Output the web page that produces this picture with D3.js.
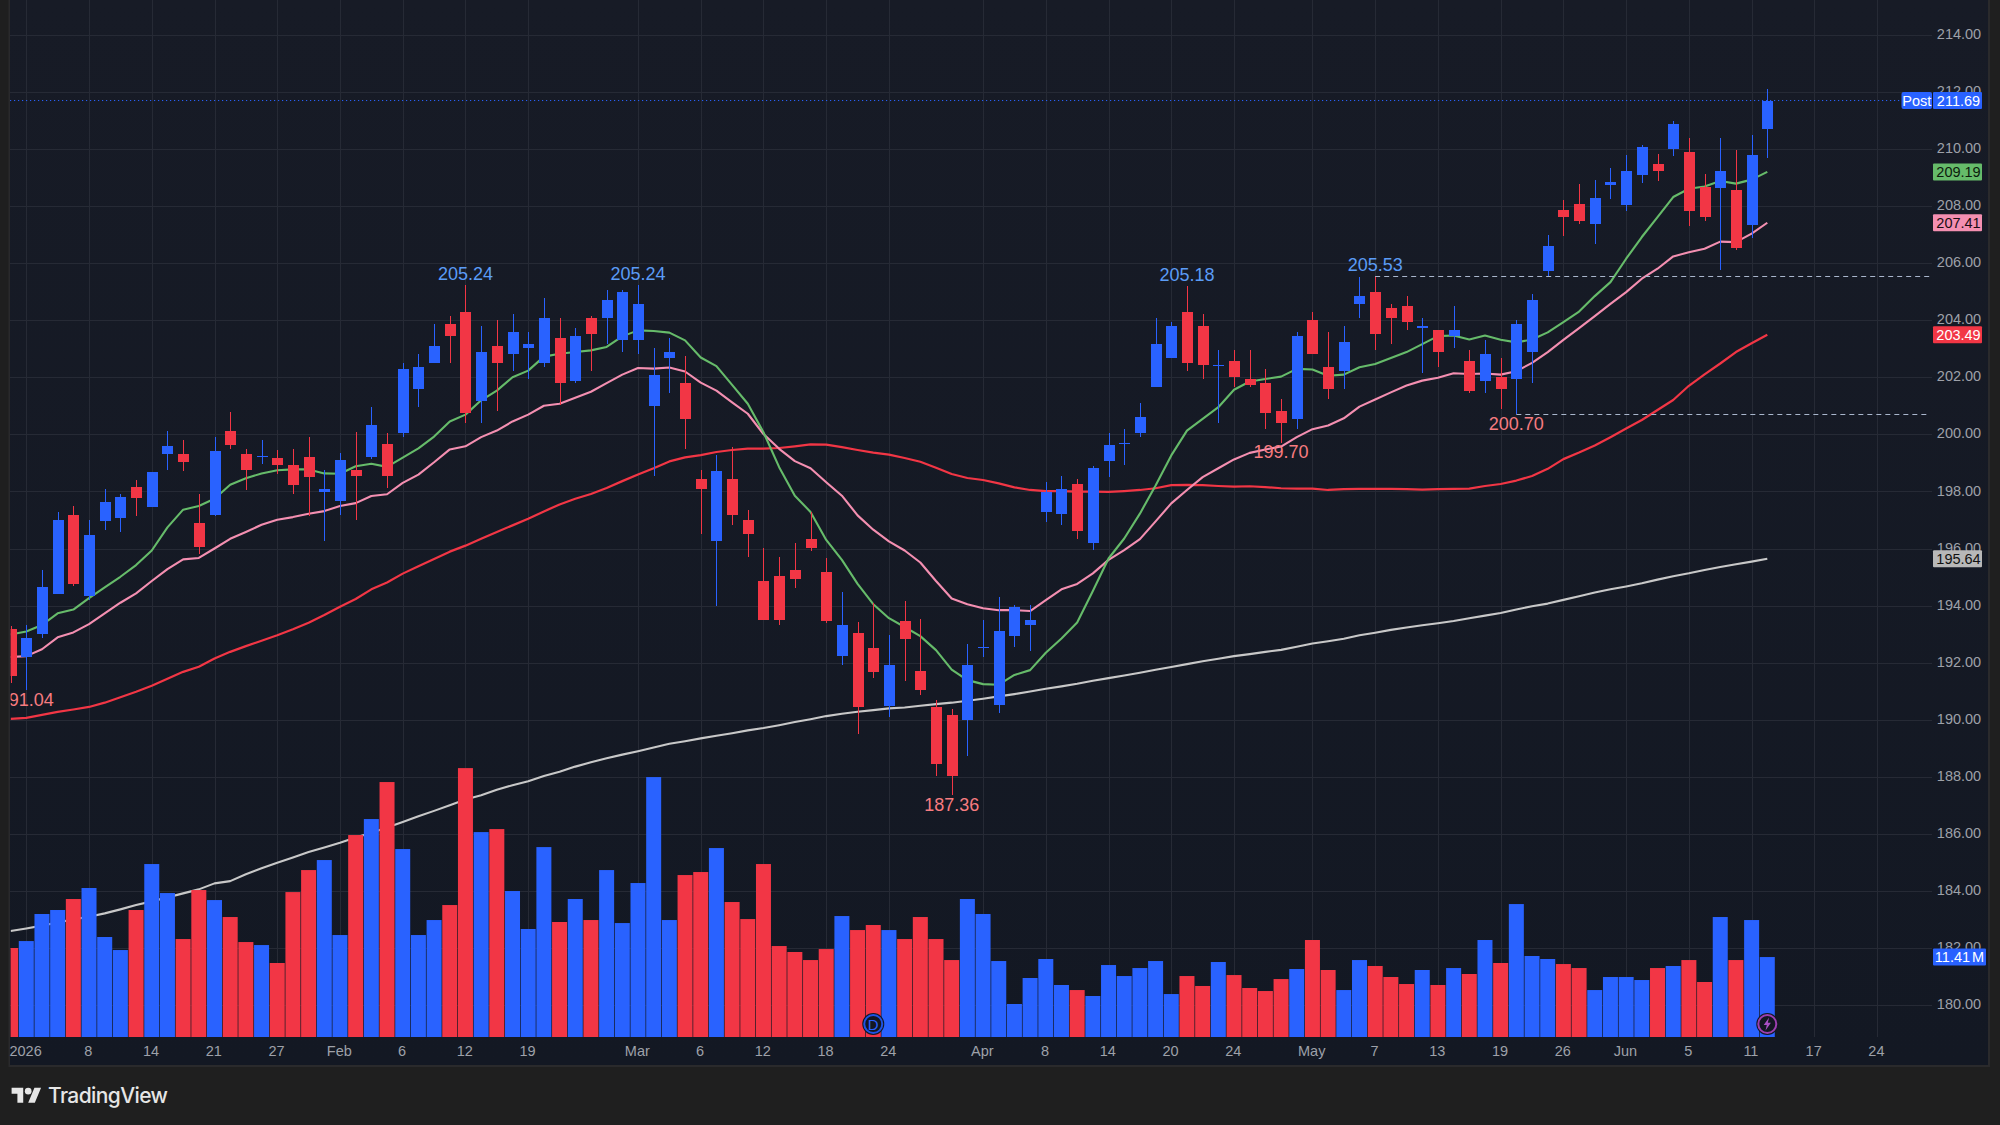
<!DOCTYPE html>
<html>
<head>
<meta charset="utf-8">
<title>Daily price chart</title>
<script src="https://cdn.jsdelivr.net/npm/d3@7/dist/d3.min.js"></script>
<style>
  html, body { margin: 0; padding: 0; background: #1f1f1f; }
  svg { display: block; }
  text { font-family: "Liberation Sans Narrow", "Liberation Sans", sans-serif; }
</style>
</head>
<body>
<svg id="chart" width="2000" height="1125"></svg>
<script>
// Daily session data, index 0 is the last session of 2025.
const opens = [193.18,192.20,193.00,194.40,197.17,194.33,196.96,197.07,198.15,197.45,199.31,199.31,196.89,197.17,200.11,199.31,199.20,199.17,198.92,199.20,197.98,197.66,198.75,199.20,199.66,200.03,201.57,202.51,203.88,204.27,201.15,203.08,202.80,203.04,202.48,203.39,201.85,204.09,204.09,203.32,203.32,201.00,202.66,201.78,198.45,196.26,198.45,197.00,194.86,195.04,195.25,196.33,195.18,192.23,193.04,192.51,190.48,193.46,191.71,190.44,190.16,189.99,192.52,190.51,192.93,193.32,197.28,197.21,198.26,196.19,199.05,199.68,200.06,201.64,202.66,204.27,203.78,202.41,202.58,201.95,201.78,200.80,200.52,204.02,202.37,202.23,204.55,204.97,204.44,204.48,203.71,203.67,203.43,202.58,201.85,201.99,201.95,202.90,205.71,207.84,208.05,207.35,208.72,208.02,209.07,209.46,209.98,209.88,208.65,208.61,208.54,207.32,210.68];
const closes = [191.53,192.86,194.65,197.00,194.76,196.47,197.63,197.80,197.77,198.68,199.59,199.03,196.05,199.41,199.62,198.75,199.24,198.92,198.22,198.50,198.08,199.10,198.54,200.32,198.54,202.27,202.37,203.11,203.43,200.76,202.87,202.48,203.57,203.15,204.09,201.81,203.46,203.53,204.72,204.97,204.58,202.09,202.90,200.52,198.10,198.70,197.19,196.52,193.49,193.49,194.93,196.02,193.46,193.32,190.44,191.67,191.92,192.83,191.04,188.45,188.03,191.92,192.55,193.11,193.95,193.49,197.98,198.08,196.61,198.81,199.64,199.71,200.62,203.15,203.81,202.51,202.41,202.44,201.99,201.74,200.73,200.38,203.43,202.80,201.60,203.25,204.86,203.50,204.06,203.95,203.81,202.90,203.67,201.53,202.80,201.57,203.85,204.72,206.58,207.60,207.46,208.26,208.82,209.21,210.05,209.21,210.86,207.81,207.60,209.21,206.51,209.77,211.69];
const highs = [193.30,193.31,195.25,197.28,197.49,197.00,198.08,197.91,198.40,198.68,200.11,199.80,197.91,199.90,200.78,199.48,199.80,199.45,199.48,199.90,198.75,199.34,200.08,200.95,200.04,202.48,202.83,203.85,204.16,205.24,203.81,203.99,204.23,203.60,204.79,204.09,203.71,204.13,205.04,205.07,205.24,203.04,203.36,202.73,198.76,199.26,199.57,197.36,196.02,195.70,196.19,197.28,195.67,194.47,193.42,194.09,192.97,194.16,193.53,190.69,190.37,192.65,193.49,194.30,194.02,194.02,198.33,198.55,198.45,198.90,200.03,200.20,201.08,204.09,203.92,205.18,204.20,202.94,202.94,202.94,202.27,201.25,203.57,204.30,203.57,203.78,205.50,205.53,204.58,204.83,204.09,203.67,204.51,202.94,203.29,202.66,203.99,204.90,206.97,208.19,208.75,208.89,209.31,209.77,210.12,209.81,210.96,210.37,209.10,210.37,209.95,210.47,212.11];
const lows = [191.30,191.04,192.86,194.40,194.69,194.19,196.65,196.58,197.14,197.45,198.75,198.71,195.81,197.14,199.48,198.05,198.96,198.61,197.91,197.14,196.26,197.17,197.00,199.13,198.12,199.90,200.97,202.48,202.51,200.38,200.41,200.83,202.23,201.92,202.34,201.04,201.78,202.23,203.18,202.90,202.83,198.55,201.43,199.47,196.52,193.98,196.84,195.70,193.49,193.32,194.61,195.91,193.39,191.92,189.50,191.46,190.09,191.36,190.86,188.03,187.36,188.73,192.20,190.23,192.55,192.41,196.93,196.82,196.33,195.95,198.52,198.94,199.92,201.64,202.66,202.20,201.95,200.38,201.64,201.67,200.17,199.70,200.20,202.80,201.22,201.60,204.06,202.94,203.18,203.64,202.16,202.34,203.04,201.46,201.46,200.90,200.70,201.81,205.53,206.93,207.35,206.65,208.23,207.81,208.79,208.86,209.74,207.28,207.46,205.74,206.44,206.86,209.67];
const volumes = [12.70,13.69,17.55,18.12,19.69,21.26,14.27,12.41,18.12,24.68,20.54,13.98,20.97,19.54,17.12,13.55,13.12,10.56,20.68,23.82,25.25,14.55,28.82,31.10,36.38,26.82,14.55,16.69,18.83,38.37,29.24,29.67,20.83,15.41,27.10,16.41,19.69,16.69,23.82,16.26,21.97,37.09,16.69,23.11,23.54,26.96,19.26,16.83,24.68,12.98,12.13,10.98,12.55,17.26,15.26,15.98,15.26,13.98,17.12,13.98,10.98,19.69,17.55,10.84,4.71,8.42,11.13,7.42,6.70,5.85,10.27,8.70,9.84,10.84,6.13,8.70,7.28,10.70,8.84,6.99,6.56,8.27,9.70,13.84,9.56,6.70,10.98,10.13,8.56,7.56,9.56,7.42,9.84,8.99,13.84,10.56,18.97,11.56,11.13,10.41,9.84,6.70,8.56,8.56,8.13,9.84,10.13,10.98,7.85,17.12,10.98,16.69,11.41];

// Moving averages, one value per session.
const maFast = [192.99,193.09,193.32,193.73,193.86,194.26,194.64,195.01,195.42,195.93,196.74,197.36,197.49,197.74,198.23,198.46,198.63,198.74,198.77,198.77,198.63,198.62,198.88,198.97,198.86,199.18,199.51,199.92,200.45,200.69,201.19,201.53,202.00,202.23,202.72,202.82,202.88,202.94,203.06,203.43,203.64,203.62,203.56,203.29,202.69,202.39,201.73,201.07,200.07,198.85,197.85,197.28,196.30,195.60,194.76,194.05,193.56,193.25,192.93,192.44,191.76,191.39,191.25,191.23,191.57,191.74,192.35,192.85,193.41,194.51,195.65,196.35,197.22,198.21,199.26,200.13,200.54,200.95,201.56,201.85,201.94,202.02,202.29,202.27,202.05,202.09,202.35,202.46,202.67,202.88,203.16,203.44,203.46,203.32,203.46,203.31,203.22,203.32,203.57,203.93,204.30,204.84,205.33,206.15,206.91,207.61,208.31,208.60,208.68,208.87,208.78,208.92,209.19];
const maMid = [192.20,192.23,192.47,192.89,193.06,193.35,193.73,194.10,194.43,194.86,195.28,195.62,195.67,196.00,196.34,196.58,196.83,197.01,197.10,197.22,197.31,197.49,197.59,197.84,197.90,198.30,198.59,199.02,199.47,199.58,199.90,200.13,200.45,200.69,201.00,201.07,201.28,201.49,201.79,202.09,202.32,202.30,202.34,202.20,201.81,201.53,201.12,200.72,200.01,199.49,199.06,198.81,198.32,197.85,197.16,196.66,196.25,195.93,195.51,194.86,194.25,194.05,193.91,193.84,193.84,193.81,194.19,194.57,194.76,195.13,195.60,195.94,196.33,196.95,197.58,198.05,198.50,198.81,199.12,199.35,199.47,199.57,199.90,200.18,200.31,200.56,200.97,201.22,201.47,201.71,201.88,201.98,202.14,202.11,202.13,202.09,202.21,202.50,202.88,203.31,203.72,204.14,204.57,204.98,205.45,205.80,206.23,206.38,206.50,206.75,206.73,207.03,207.41];
const maSlow = [190.03,190.07,190.17,190.28,190.36,190.45,190.60,190.79,190.98,191.19,191.44,191.68,191.86,192.15,192.38,192.58,192.77,192.96,193.17,193.40,193.67,193.96,194.23,194.57,194.81,195.12,195.38,195.63,195.89,196.10,196.34,196.58,196.81,197.04,197.30,197.54,197.74,197.91,198.12,198.36,198.59,198.81,199.05,199.19,199.27,199.38,199.45,199.50,199.50,199.52,199.58,199.65,199.64,199.55,199.45,199.36,199.29,199.17,199.04,198.83,198.61,198.47,198.40,198.28,198.14,198.05,198.01,198.01,197.99,197.99,197.98,198.01,198.05,198.11,198.22,198.23,198.22,198.19,198.17,198.18,198.15,198.11,198.10,198.10,198.05,198.08,198.09,198.09,198.09,198.08,198.06,198.08,198.09,198.10,198.19,198.26,198.38,198.54,198.79,199.13,199.36,199.61,199.90,200.20,200.50,200.85,201.20,201.70,202.10,202.48,202.88,203.19,203.49];
const maLong = [182.60,182.69,182.79,182.90,183.01,183.10,183.22,183.36,183.51,183.64,183.78,183.92,184.06,184.27,184.35,184.59,184.80,184.99,185.18,185.37,185.53,185.69,185.88,186.04,186.23,186.42,186.62,186.81,187.01,187.21,187.36,187.55,187.71,187.85,188.03,188.18,188.36,188.51,188.65,188.78,188.90,189.03,189.16,189.25,189.35,189.44,189.53,189.63,189.71,189.81,189.92,190.02,190.13,190.21,190.28,190.34,190.40,190.43,190.49,190.55,190.60,190.67,190.74,190.82,190.90,190.99,191.09,191.17,191.26,191.37,191.46,191.55,191.65,191.75,191.85,191.95,192.05,192.14,192.23,192.30,192.38,192.45,192.56,192.67,192.75,192.84,192.96,193.05,193.15,193.23,193.31,193.38,193.46,193.56,193.65,193.74,193.86,193.98,194.07,194.20,194.33,194.46,194.57,194.67,194.78,194.91,195.03,195.13,195.25,195.35,195.45,195.54,195.64];

// Axis labelling.
const priceTicks = [180,182,184,186,188,190,192,194,196,198,200,202,204,206,208,210,212,214];
const dateTickIndex = [1,5,9,13,17,21,25,29,33,40,44,48,52,56,62,66,70,74,78,83,87,91,95,99,103,107,111,115,119];
const dateTickLabels = ["2026","8","14","21","27","Feb","6","12","19","Mar","6","12","18","24","Apr","8","14","20","24","May","7","13","19","26","Jun","5","11","17","24"];

// Swing points that carry a price label.
const swingHighs = [29,40,75,87];
const swingLows = [1,60,81,96];
// Horizontal levels extended to the right from a swing.
const levelHighIndex = 87;
const levelLowIndex = 96;

const UP = "#2962ff", DOWN = "#f23645", GREEN = "#66bb6a", PINK = "#f48fb1", GREY = "#c8c8c8";
const LAST = opens.length - 1;
const isUp = i => closes[i] >= opens[i];

const svg = d3.select("#chart");
const defs = svg.append("defs");
const bgGrad = defs.append("linearGradient").attr("id", "paneBg").attr("x1", 0).attr("y1", 0).attr("x2", 0).attr("y2", 1);
bgGrad.append("stop").attr("offset", "0%").attr("stop-color", "#171b26");
bgGrad.append("stop").attr("offset", "100%").attr("stop-color", "#131823");
defs.append("clipPath").attr("id", "pane").append("rect")
  .attr("x", 10.6).attr("y", 0).attr("width", 1921).attr("height", 1037);

const x = d3.scaleLinear().domain([0, LAST]).range([10.6, 1767.3]);
const y = d3.scaleLinear().domain([180, 214]).range([1005.3, 34.6]);
const vol = d3.scaleLinear().domain([0, d3.max(volumes)]).range([1037, 768.1]);

// Page and pane backgrounds.
svg.append("rect").attr("width", 2000).attr("height", 1125).attr("fill", "#1f1f1f");
svg.append("rect").attr("x", 8.5).attr("y", 0).attr("width", 1981.5).attr("height", 1067).attr("fill", "#2a2a2c");
svg.append("rect").attr("x", 10).attr("y", 0).attr("width", 1978).attr("height", 1065).attr("fill", "url(#paneBg)");

// Grid.
const grid = svg.append("g").attr("stroke", "#262a35").attr("stroke-width", 1).attr("shape-rendering", "crispEdges");
grid.selectAll("line.h").data(priceTicks).join("line").attr("class", "h")
  .attr("x1", 10).attr("x2", 1932).attr("y1", d => Math.round(y(d)) + .5).attr("y2", d => Math.round(y(d)) + .5);
grid.selectAll("line.v").data(dateTickIndex).join("line").attr("class", "v")
  .attr("x1", d => Math.round(x(d)) + .5).attr("x2", d => Math.round(x(d)) + .5).attr("y1", 0).attr("y2", 1037);

const plot = svg.append("g").attr("clip-path", "url(#pane)");

// Moving averages sit behind the volume bars and candles.
const maLine = d3.line().x((d, i) => x(i)).y(d => y(d));
[[maLong, GREY, 2.1], [maSlow, DOWN, 2.2], [maMid, PINK, 2.1], [maFast, GREEN, 2.1]].forEach(([values, color, w]) => {
  plot.append("path").datum(values).attr("d", maLine).attr("fill", "none")
    .attr("stroke", color).attr("stroke-width", w).attr("stroke-linejoin", "round");
});

// Volume histogram.
plot.append("g").selectAll("rect").data(volumes).join("rect")
  .attr("x", (d, i) => x(i) - 7.5).attr("width", 15)
  .attr("y", d => vol(d)).attr("height", d => 1037 - vol(d))
  .attr("fill", (d, i) => isUp(i) ? UP : DOWN);

// Candles.
const candles = plot.append("g").attr("shape-rendering", "crispEdges");
const idx = d3.range(opens.length);
candles.selectAll("line").data(idx).join("line")
  .attr("x1", i => Math.round(x(i)) + .5).attr("x2", i => Math.round(x(i)) + .5)
  .attr("y1", i => y(highs[i])).attr("y2", i => y(lows[i]))
  .attr("stroke", i => isUp(i) ? UP : DOWN);
candles.selectAll("rect").data(idx).join("rect")
  .attr("x", i => Math.round(x(i)) - 5).attr("width", 11)
  .attr("y", i => y(Math.max(opens[i], closes[i])))
  .attr("height", i => Math.max(1, Math.abs(y(opens[i]) - y(closes[i]))))
  .attr("fill", i => isUp(i) ? UP : DOWN);

// Last-price line and the two swing levels.
const lastClose = closes[LAST];
svg.append("line").attr("x1", 10).attr("x2", 1900).attr("y1", y(lastClose)).attr("y2", y(lastClose))
  .attr("stroke", UP).attr("stroke-width", 1).attr("stroke-dasharray", "1.2 2.8");
[[levelHighIndex, highs[levelHighIndex]], [levelLowIndex, lows[levelLowIndex]]].forEach(([i, v]) => {
  svg.append("line").attr("x1", x(i)).attr("x2", 1930).attr("y1", Math.round(y(v)) + .5).attr("y2", Math.round(y(v)) + .5)
    .attr("stroke", "#a9b6cc").attr("stroke-width", 1).attr("stroke-dasharray", "5 4");
});

// Swing labels.
const fmt = d3.format(".2f");
plot.selectAll("text.hi").data(swingHighs).join("text").attr("class", "hi")
  .attr("x", i => x(i)).attr("y", i => y(highs[i]) - 5)
  .attr("text-anchor", "middle").attr("fill", "#5b9cf6")
  .attr("font-size", 18).attr("style", 'font-family:"Liberation Sans",sans-serif').text(i => fmt(highs[i]));
plot.selectAll("text.lo").data(swingLows).join("text").attr("class", "lo")
  .attr("x", i => x(i)).attr("y", i => y(lows[i]) + 15.5)
  .attr("text-anchor", "middle").attr("fill", "#f77c80")
  .attr("font-size", 18).attr("style", 'font-family:"Liberation Sans",sans-serif').text(i => fmt(lows[i]));

// Price axis.
const priceAxis = d3.axisRight(y).tickValues(priceTicks).tickFormat(fmt).tickSize(0).tickPadding(0);
const pa = svg.append("g").attr("transform", "translate(1959,-1)").call(priceAxis);
pa.select(".domain").remove();
pa.selectAll("text").attr("text-anchor", "middle").attr("font-size", 14.5)
  .attr("fill", "#9ea1a9").attr("style", "font-family:inherit");

// Date axis.
const dateAxis = d3.axisBottom(x).tickValues(dateTickIndex)
  .tickFormat((d, i) => dateTickLabels[i]).tickSize(0).tickPadding(0);
const da = svg.append("g").attr("transform", "translate(-1.2,1045.5)").call(dateAxis);
da.select(".domain").remove();
da.selectAll("text").attr("font-size", 14.5).attr("fill", "#9ea1a9").attr("style", "font-family:inherit");

// Value badges on the price axis.
const badges = [
  { v: lastClose, bg: UP, fg: "#ffffff", text: fmt(lastClose) },
  { v: maFast[LAST], bg: GREEN, fg: "#0c1a0c", text: fmt(maFast[LAST]) },
  { v: maMid[LAST], bg: PINK, fg: "#1a0c12", text: fmt(maMid[LAST]) },
  { v: maSlow[LAST], bg: DOWN, fg: "#ffffff", text: fmt(maSlow[LAST]) },
  { v: maLong[LAST], bg: "#b8b8b8", fg: "#111111", text: fmt(maLong[LAST]) }
];
const badgeG = svg.append("g");
badges.forEach(b => {
  const cy = y(b.v);
  badgeG.append("rect").attr("x", 1933).attr("y", cy - 8.5).attr("width", 49).attr("height", 17).attr("fill", b.bg).attr("rx", 1);
  badgeG.append("text").attr("x", 1958.5).attr("y", cy + 5).attr("text-anchor", "middle")
    .attr("font-size", 14.5).attr("fill", b.fg).text(b.text);
});
badgeG.append("rect").attr("x", 1901.5).attr("y", y(lastClose) - 8.5).attr("width", 30.5).attr("height", 17).attr("fill", UP).attr("rx", 2);
badgeG.append("text").attr("x", 1916.8).attr("y", y(lastClose) + 5).attr("text-anchor", "middle")
  .attr("font-size", 14.5).attr("fill", "#ffffff").text("Post");
const lastVol = volumes[LAST];
badgeG.append("rect").attr("x", 1933).attr("y", vol(lastVol) - 8.5).attr("width", 53).attr("height", 17).attr("fill", UP).attr("rx", 1);
badgeG.append("text").attr("x", 1959.5).attr("y", vol(lastVol) + 5).attr("text-anchor", "middle").attr("word-spacing", "-2")
  .attr("font-size", 14.5).attr("fill", "#ffffff").text(fmt(lastVol) + " M");

// Event markers on the volume baseline.
const marker = svg.append("g").attr("transform", `translate(${x(55)},1024)`);
marker.append("circle").attr("r", 11).attr("fill", "#131722");
marker.append("circle").attr("r", 9).attr("fill", "#131722").attr("stroke", "#1e53e5").attr("stroke-width", 2);
marker.append("text").attr("text-anchor", "middle").attr("y", 5.5).attr("font-size", 15).attr("fill", "#2962ff").text("D");
const bolt = svg.append("g").attr("transform", `translate(${x(LAST)},1024)`);
bolt.append("circle").attr("r", 11).attr("fill", "#131722");
bolt.append("circle").attr("r", 9).attr("fill", "#131722").attr("stroke", "#9c3fb0").attr("stroke-width", 2);
bolt.append("path").attr("d", "M1.8,-6.5 L-3.6,1 L-0.5,1 L-1.8,6.5 L3.6,-1.2 L0.5,-1.2 Z").attr("fill", "#a94fc4");

// Brand mark and wordmark.
const brand = svg.append("g").attr("transform", "translate(11.6,1084.5) scale(0.83)").attr("fill", "#e6e6e6");
brand.append("path").attr("d", "M14 22H7V11H0V4h14v18zM28 22h-8l7.5-18h8L28 22z");
brand.append("circle").attr("cx", 20).attr("cy", 8).attr("r", 4);
svg.append("text").attr("x", 48).attr("y", 1102.5).attr("font-size", 21).attr("font-weight", 500)
  .attr("fill", "#e6e6e6").attr("style", 'font-family:Inter,sans-serif;letter-spacing:-0.6px').text("TradingView");
</script>
</body>
</html>
